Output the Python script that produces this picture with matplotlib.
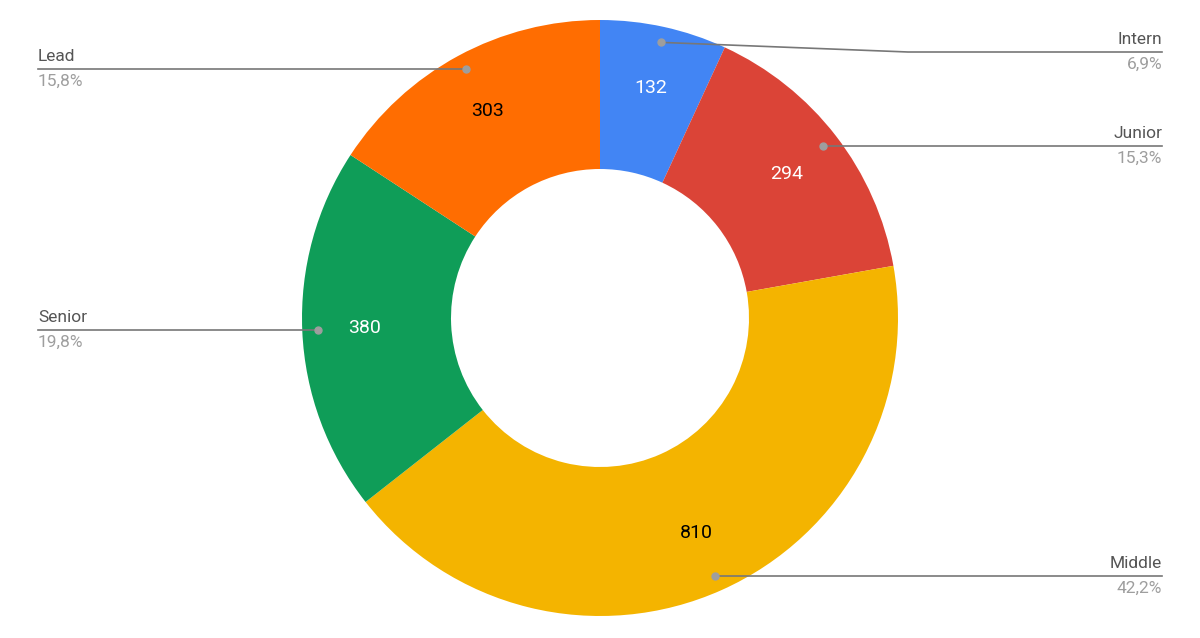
import numpy as np
import matplotlib.pyplot as plt

plt.rcParams['font.family'] = ['Roboto', 'DejaVu Sans']

categories = ['Intern', 'Junior', 'Middle', 'Senior', 'Lead']
counts = [132, 294, 810, 380, 303]
colors = ['#4285F4', '#DB4437', '#F4B400', '#0F9D58', '#FF6D01']
value_colors = ['white', 'white', 'black', 'white', 'black']
# label rows (pixel y from top) for the leader lines
label_rows = [52, 146, 576, 330, 69]

W, H = 1200, 638
cx, cy, R = 600, H - 318, 298

fig = plt.figure(figsize=(12, 6.38), dpi=100)
ax = fig.add_axes([0, 0, 1, 1])
ax.set_xlim(0, W)
ax.set_ylim(0, H)
ax.set_aspect('equal')
ax.axis('off')

wedges, _ = ax.pie(counts, colors=colors, startangle=90, counterclock=False,
                   center=(cx, cy), radius=R, wedgeprops=dict(width=R * 0.5, linewidth=0))
ax.set_xlim(0, W)
ax.set_ylim(0, H)

total = sum(counts)
for w, name, n, vc, row in zip(wedges, categories, counts, value_colors, label_rows):
    ang = np.deg2rad((w.theta1 + w.theta2) / 2)
    vx, vy = cx + 0.79 * R * np.cos(ang), cy + 0.79 * R * np.sin(ang)
    ax.text(vx, vy, str(n), ha='center', va='center', fontsize=14, color=vc)
    dx, dy = cx + 0.947 * R * np.cos(ang), cy + 0.947 * R * np.sin(ang)
    ly = H - row
    right = dx > cx
    edge = 1162 if right else 38
    if abs(dy - ly) > 6:
        knee = 908 if right else 292
        xs, ys = [dx, knee, edge], [dy, ly, ly]
    else:
        xs, ys = [dx, edge], [ly, ly]
        dy = ly
    ax.plot(xs, ys, color='#777777', lw=1.2)
    ax.plot(dx, dy, 'o', color='#9e9e9e', ms=5)
    ha = 'right' if right else 'left'
    pct = f"{n / total * 100:.1f}%".replace('.', ',')
    ax.text(edge, ly + 5, name, ha=ha, va='bottom', fontsize=12.5, color='#555555')
    ax.text(edge, ly - 5, pct, ha=ha, va='top', fontsize=12.5, color='#9e9e9e')

fig.savefig('out.png', dpi=100)
